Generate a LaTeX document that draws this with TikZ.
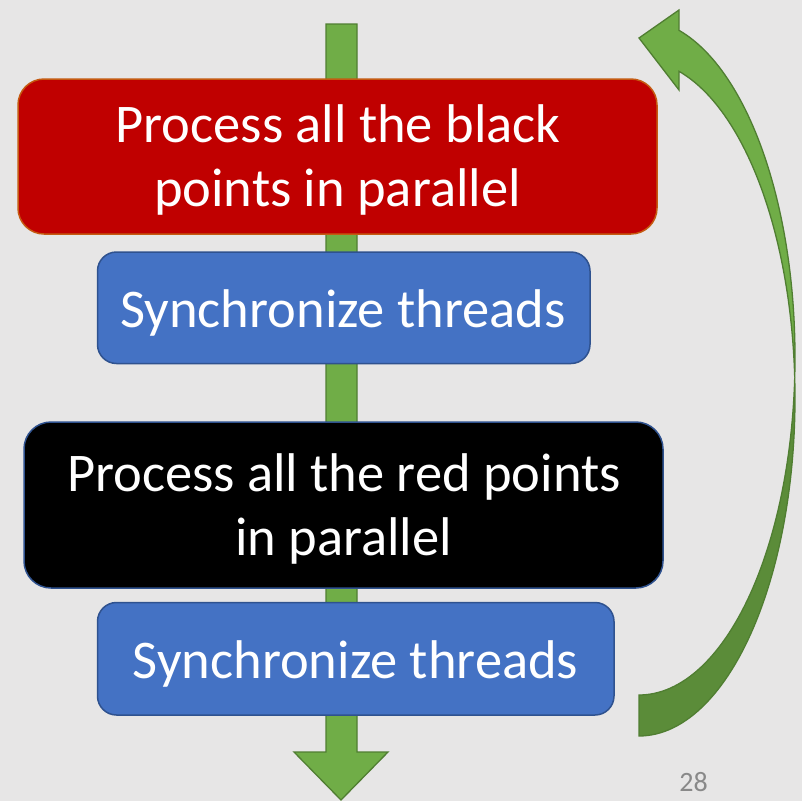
\documentclass[tikz,border=0pt]{standalone}
\usepackage{fontspec}
\setmainfont{Carlito}
\definecolor{bg}{HTML}{E7E6E6}
\definecolor{grn}{HTML}{70AD47}
\definecolor{grnd}{HTML}{507E32}
\definecolor{grnshade}{HTML}{5B8C39}
\definecolor{redbox}{HTML}{C00000}
\definecolor{redline}{HTML}{C55A11}
\definecolor{bluebox}{HTML}{4472C4}
\definecolor{blueline}{HTML}{2F528F}
\definecolor{pagegray}{HTML}{898989}
\begin{document}
\begin{tikzpicture}[x=1pt,y=-1pt,
  boxshape/.style={line width=1.5pt, inner sep=0pt},
  redshape/.style={boxshape, draw=redline, fill=redbox, rounded corners=26pt},
  blueshape/.style={boxshape, draw=blueline, fill=bluebox, rounded corners=19pt},
  blackshape/.style={boxshape, draw=blueline, fill=black, rounded corners=27pt},
  bigtext/.style={text=white, font=\fontsize{54.5}{64}\selectfont, inner sep=0pt, anchor=base},
  greenshape/.style={fill=grn, draw=grnd, line width=1.3pt, line join=miter},
]
\fill[bg] (0,0) rectangle (802,801);
\useasboundingbox (0,0) rectangle (802,801);

% straight block arrow (behind the boxes)
\draw[greenshape] (326,24) -- (357,24) -- (357,752) -- (388,752) -- (341,800) -- (294,752) -- (326,752) -- cycle;

% boxes
\node[redshape, minimum width=639pt, minimum height=155pt] (red) at (337.5,156.5) {};
\node[blueshape, minimum width=492.5pt, minimum height=111.5pt] (sync1) at (343.75,307.75) {};
\node[blackshape, minimum width=639pt, minimum height=166pt] (blk) at (343.5,505) {};
\node[blueshape, minimum width=516.5pt, minimum height=112.5pt] (sync2) at (355.75,658.75) {};

% texts
\node[bigtext] (red1) at (338,142) {Process all the black};
\node[bigtext] (red2) at (337.5,206) {points in parallel};
\node[bigtext] (s1) at (343,327) {Synchronize threads};
\node[bigtext] (blk1) at (344,491) {Process all the red points};
\node[bigtext] (blk2) at (343.5,555) {in parallel};
\node[bigtext] (s2) at (355.5,678) {Synchronize threads};

% curved return arrow: upper (light) part
\draw[greenshape]
  plot[domain=3.48:-75.14, samples=60, variable=\t] ({639+156*cos(\t)},{357+338*sin(\t)})
  -- (679,10) -- (639,38) -- (679,90)
  -- plot[domain=-75.14:-3.48, samples=60, variable=\t] ({639+156*cos(\t)},{398+338*sin(\t)})
  -- cycle;
% lower (shaded) part
\draw[greenshape, fill=grnshade]
  plot[domain=-3.48:90, samples=60, variable=\t] ({639+156*cos(\t)},{398+338*sin(\t)})
  -- (639,695)
  -- plot[domain=90:3.48, samples=60, variable=\t] ({639+156*cos(\t)},{357+338*sin(\t)})
  -- cycle;

% page number
\node[font=\fontsize{28}{34}\selectfont, text=pagegray, inner sep=0pt, anchor=base] (page) at (693.5,791) {28};
\end{tikzpicture}
\end{document}
